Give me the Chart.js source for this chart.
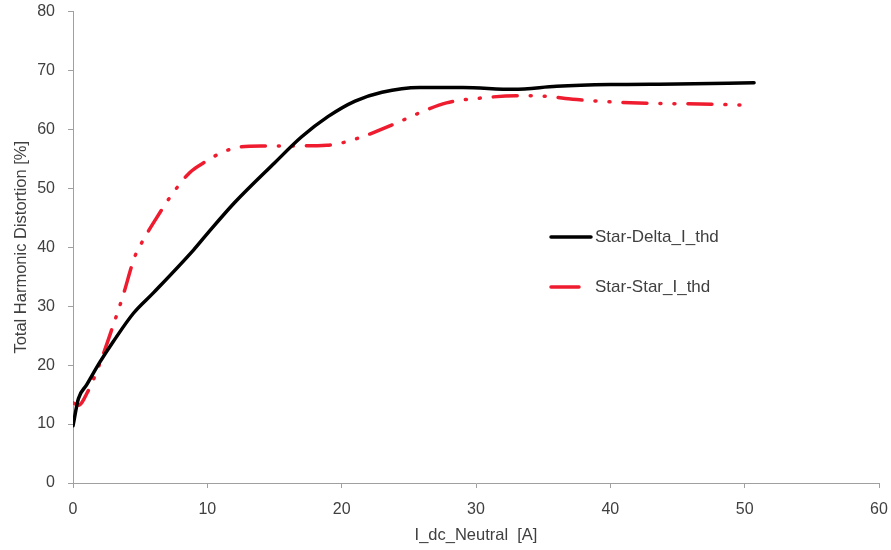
<!DOCTYPE html>
<html>
<head>
<meta charset="utf-8">
<script src="https://cdn.jsdelivr.net/npm/chart.js@4/dist/chart.umd.min.js"></script>
<style>
  html, body { margin: 0; padding: 0; background: #fff; }
  #wrap { width: 891px; height: 550px; position: relative; }
</style>
</head>
<body>
<div id="wrap"><canvas id="c" width="891" height="550"></canvas></div>
<script>
const deltaX = [0, 0.4, 1, 2, 3, 4.5, 6, 9, 10, 12, 15, 17, 19, 21, 23, 25.8, 29, 32.8, 36, 40, 45, 50.7];
const deltaY = [9.7, 14.3, 16.6, 20.5, 24, 28.8, 32.3, 39.6, 42.3, 47.5, 54.3, 58.7, 62.2, 64.8, 66.3, 67.1, 67.1, 66.8, 67.3, 67.6, 67.7, 67.9];
const starX = [0, 0.4, 1.1, 2, 3, 3.7, 4.6, 5.1, 6.2, 7.35, 8.7, 9.7, 11.2, 12.4, 14, 16.7, 18.9, 20, 21.6, 23.8, 25.8, 27.8, 30.3, 33, 35.3, 37.2, 38.4, 41.5, 46.7, 50.4];
const starY = [13.6, 13.2, 15.5, 20.3, 26.8, 31.6, 38.4, 40.7, 44.9, 48.9, 52.7, 54.3, 56.2, 57, 57.2, 57.2, 57.3, 57.7, 58.8, 60.8, 62.8, 64.5, 65.3, 65.7, 65.6, 65.1, 64.9, 64.5, 64.3, 64.1];
const seriesLabels = ['Star-Delta_I_thd', 'Star-Star_I_thd'];
const xTitle = 'I_dc_Neutral  [A]';
const yTitle = 'Total Harmonic Distortion [%]';

const toPts = (xs, ys) => xs.map((x, i) => ({x: x, y: ys[i]}));
const FONT = 'Liberation Sans';
const TXT = '#404040';
const AX = '#a0a0a0';

const legendPlugin = {
  id: 'customLegend',
  afterDraw(chart) {
    const ctx = chart.ctx;
    const ds = chart.data.datasets;
    const rows = [{y: 237, len: 40}, {y: 287, len: 28}];
    ctx.save();
    ds.forEach((d, i) => {
      const r = rows[i];
      ctx.beginPath();
      ctx.setLineDash([]);
      ctx.lineCap = 'round';
      ctx.strokeStyle = d.borderColor;
      ctx.lineWidth = 3.5;
      ctx.moveTo(551, r.y);
      ctx.lineTo(551 + r.len, r.y);
      ctx.stroke();
      ctx.fillStyle = TXT;
      ctx.font = '17px "' + FONT + '"';
      ctx.textBaseline = 'middle';
      ctx.textAlign = 'left';
      ctx.fillText(d.label, 595, r.y);
    });
    ctx.restore();
  }
};

new Chart(document.getElementById('c'), {
  type: 'scatter',
  data: {
    datasets: [
      {
        label: seriesLabels[0],
        data: toPts(deltaX, deltaY),
        showLine: true,
        borderColor: '#000000',
        backgroundColor: '#000000',
        borderWidth: 3.5,
        pointRadius: 0,
        cubicInterpolationMode: 'monotone',
        borderCapStyle: 'round'
      },
      {
        label: seriesLabels[1],
        data: toPts(starX, starY),
        showLine: true,
        borderColor: '#ee1c2e',
        backgroundColor: '#ee1c2e',
        borderWidth: 3.5,
        pointRadius: 0,
        cubicInterpolationMode: 'monotone',
        borderCapStyle: 'round',
        borderDash: [24, 13, 1, 13, 1, 13]
      }
    ]
  },
  options: {
    responsive: false,
    animation: false,
    layout: { padding: { top: 11.5, right: 12, left: 0, bottom: 0 } },
    plugins: { legend: { display: false }, tooltip: { enabled: false } },
    scales: {
      x: {
        type: 'linear',
        min: 0, max: 60,
        ticks: { stepSize: 10, color: TXT, font: { family: FONT, size: 16 }, padding: 12, maxRotation: 0 },
        grid: { display: true, drawOnChartArea: false, drawTicks: true, tickLength: 5, color: AX },
        border: { display: true, color: AX, width: 1 },
        title: { display: true, text: xTitle, color: TXT, font: { family: FONT, size: 16.5 }, padding: { top: 0, bottom: 5 } },
        afterFit(s) { s.height = 67; s.paddingLeft = 0; s.paddingRight = 0; }
      },
      y: {
        type: 'linear',
        min: 0, max: 80,
        ticks: { stepSize: 10, color: TXT, font: { family: FONT, size: 16 }, padding: 13 },
        grid: { display: true, drawOnChartArea: false, drawTicks: true, tickLength: 5, color: AX },
        border: { display: true, color: AX, width: 1 },
        title: { display: true, text: yTitle, color: TXT, font: { family: FONT, size: 16.5 }, padding: { top: 12, bottom: 0 } },
        afterFit(s) { s.width = 73; s.paddingTop = 0; s.paddingBottom = 0; }
      }
    }
  },
  plugins: [legendPlugin]
});
</script>
</body>
</html>
